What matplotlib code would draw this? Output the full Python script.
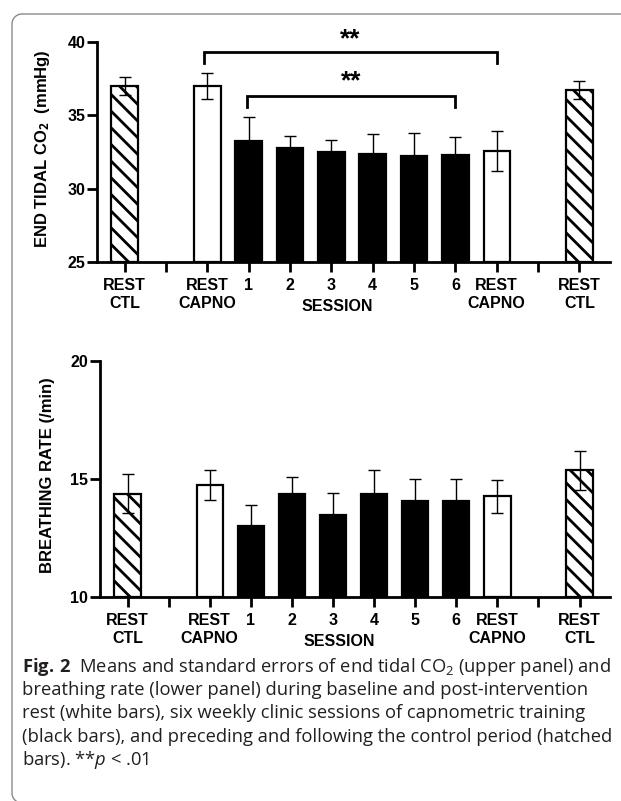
import numpy as np
import matplotlib
matplotlib.use('Agg')
import matplotlib.pyplot as plt
from matplotlib.lines import Line2D

# ---- data ----
categories = ['REST\nCTL', '', 'REST\nCAPNO', '1', '2', '3', '4', '5', '6',
              'REST\nCAPNO', '', 'REST\nCTL']
kinds = ['ctl', None, 'rest', 'sess', 'sess', 'sess', 'sess', 'sess', 'sess',
         'rest', None, 'ctl']

co2_mean = [37.0, np.nan, 37.0, 33.25, 32.78, 32.5, 32.38, 32.22, 32.27, 32.58, np.nan, 36.7]
co2_err = [0.6, np.nan, 0.9, 1.65, 0.82, 0.82, 1.34, 1.58, 1.23, 1.37, np.nan, 0.62]

br_mean = [14.38, np.nan, 14.75, 13.0, 14.38, 13.47, 14.38, 14.07, 14.07, 14.27, np.nan, 15.37]
br_err = [0.82, np.nan, 0.62, 0.88, 0.72, 0.92, 1.02, 0.92, 0.92, 0.7, np.nan, 0.82]

session_label = 'SESSION'

plt.rcParams['font.family'] = ['Liberation Sans', 'DejaVu Sans']
plt.rcParams['hatch.linewidth'] = 2.0
plt.rcParams['mathtext.fontset'] = 'custom'
plt.rcParams['mathtext.rm'] = 'Open Sans:regular'
plt.rcParams['mathtext.it'] = 'Open Sans:italic:regular'
plt.rcParams['mathtext.bf'] = 'Open Sans:bold'

W, H = 621, 801
fig = plt.figure(figsize=(W / 100, H / 100), dpi=100)

# rounded frame: left edge with rounded corners, runs off right and bottom
left, top, bot, r = 12, 14, 803, 10
t = np.linspace(0, np.pi / 2, 12)
fx = np.concatenate([[W + 10], left + r - r * np.sin(t), left + r - r * np.cos(t), [W + 10]])
fy = np.concatenate([[top], top + r - r * np.cos(t), bot - r + r * np.sin(t), [bot]])
fig.add_artist(Line2D(fx / W, 1 - fy / H, transform=fig.transFigure, color='#8a8a8a',
                      linewidth=1.0))

x = np.arange(len(categories))


def panel(rect, means, errs, ylim, yticks, ylabel):
    ax = fig.add_axes(rect)
    for xi, m, k in zip(x, means, kinds):
        if k is None:
            continue
        if k == 'ctl':
            ax.bar(xi, m - ylim[0], 0.64, bottom=ylim[0], color='white', edgecolor='black',
                   hatch='\\\\', linewidth=1.6, zorder=2)
        elif k == 'rest':
            ax.bar(xi, m - ylim[0], 0.64, bottom=ylim[0], color='white', edgecolor='black',
                   linewidth=1.6, zorder=2)
        else:
            ax.bar(xi, m - ylim[0], 0.64, bottom=ylim[0], color='black', edgecolor='black',
                   linewidth=1.6, zorder=2)
    ax.errorbar(x, means, yerr=errs, fmt='none', ecolor='black', elinewidth=1.0,
                capsize=4.3, capthick=1.0, zorder=3)
    ax.set_xlim(-0.67, len(categories) - 0.26)
    ax.set_ylim(*ylim)
    ax.set_yticks(yticks)
    ax.set_xticks(x)
    ax.set_xticklabels(categories, linespacing=1.25)
    plt.setp(ax.get_xticklabels() + ax.get_yticklabels(), fontweight='bold')
    for s in ['top', 'right']:
        ax.spines[s].set_visible(False)
    for s in ['left', 'bottom']:
        ax.spines[s].set_linewidth(2.0)
    ax.tick_params(axis='y', length=7, width=2, pad=1.5, labelsize=11.5)
    ax.tick_params(axis='x', length=7.5, width=2, pad=4, labelsize=11.5)
    ax.set_ylabel(ylabel, fontsize=12, fontweight='bold')
    ax.yaxis.set_label_coords(-0.088, 0.515)
    ax.annotate(session_label, xy=(5.15, 0), xycoords=('data', 'axes fraction'),
                xytext=(0, -32), textcoords='offset points', ha='center', va='center',
                fontsize=11.5, fontweight='bold')
    return ax


ax1 = panel([97 / W, 1 - 262 / H, 513 / W, 220 / H], co2_mean, co2_err, (25, 40),
            [25, 30, 35, 40], r'END TIDAL CO$_{\mathbf{2}}$  (mmHg)')
ax2 = panel([100 / W, 1 - 597 / H, 510 / W, 236 / H], br_mean, br_err, (10, 20),
            [10, 15, 20], 'BREATHING RATE (/min)')

# significance brackets
brackets = [(1.92, 9.0, 39.3, 38.55, 40.2), (2.97, 8.0, 36.33, 35.58, 37.35)]
for x0, x1, yb, ye, ys in brackets:
    ax1.plot([x0, x0, x1, x1], [ye, yb, yb, ye], color='black', linewidth=2.0,
             solid_joinstyle='miter', clip_on=False, zorder=4)
    ax1.text((x0 + x1) / 2, ys, '**', ha='center', va='center', fontsize=19,
             fontweight='bold', clip_on=False)

# caption
cap_lines = [
    r'$\mathbf{Fig.\,2}$  Means and standard errors of end tidal CO$_2$ (upper panel) and',
    'breathing rate (lower panel) during baseline and post-intervention',
    'rest (white bars), six weekly clinic sessions of capnometric training',
    '(black bars), and preceding and following the control period (hatched',
    r'bars). **$p$ < .01',
]
cap_y = [667, 690, 713, 737, 760]
for line, yy in zip(cap_lines, cap_y):
    fig.text(22 / W, 1 - (yy + 5) / H, line, family='Open Sans', fontweight='normal',
             fontsize=13.2, color='#231f20', va='baseline', ha='left')

fig.savefig('out.png', dpi=100)
